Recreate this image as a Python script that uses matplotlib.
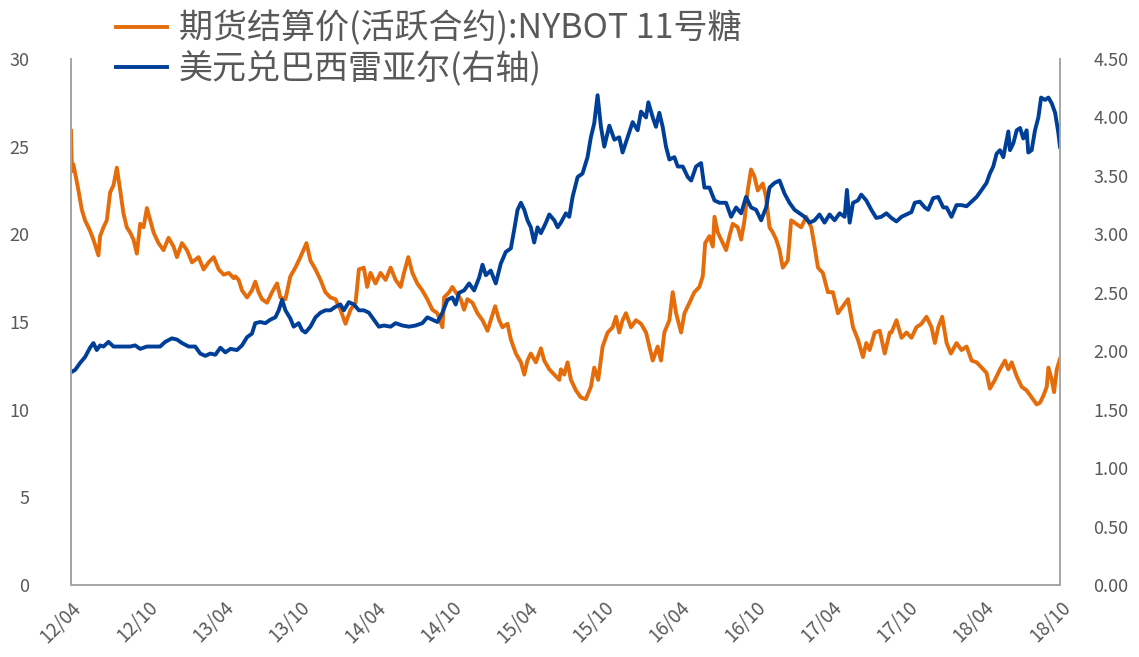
import matplotlib
matplotlib.use("Agg")
import matplotlib.pyplot as plt
import numpy as np
import pandas as pd

# ---- data (decimal-year, value) ----
sugar_t = [2012.270, 2012.276, 2012.285, 2012.297, 2012.319, 2012.341, 2012.362, 2012.395, 2012.417, 2012.439,
           2012.450, 2012.461, 2012.483, 2012.505, 2012.527, 2012.549, 2012.571, 2012.593, 2012.614, 2012.636,
           2012.658, 2012.680, 2012.702, 2012.724, 2012.746, 2012.768, 2012.790, 2012.812, 2012.844, 2012.877,
           2012.910, 2012.943, 2012.965, 2012.998, 2013.031, 2013.064, 2013.107, 2013.140, 2013.173, 2013.206,
           2013.239, 2013.272, 2013.305, 2013.338, 2013.348, 2013.370, 2013.392, 2013.425, 2013.457, 2013.479,
           2013.501, 2013.523, 2013.556, 2013.589, 2013.622, 2013.644, 2013.677, 2013.709, 2013.742, 2013.775,
           2013.815, 2013.841, 2013.874, 2013.907, 2013.939, 2013.972, 2014.005, 2014.038, 2014.071, 2014.104,
           2014.137, 2014.159, 2014.191, 2014.213, 2014.235, 2014.268, 2014.301, 2014.334, 2014.367, 2014.400,
           2014.433, 2014.455, 2014.483, 2014.510, 2014.542, 2014.575, 2014.608, 2014.641, 2014.674, 2014.707,
           2014.718, 2014.751, 2014.772, 2014.794, 2014.827, 2014.849, 2014.871, 2014.904, 2014.937, 2014.970,
           2015.003, 2015.024, 2015.053, 2015.079, 2015.101, 2015.134, 2015.156, 2015.189, 2015.222, 2015.244,
           2015.265, 2015.287, 2015.320, 2015.353, 2015.375, 2015.408, 2015.441, 2015.474, 2015.484, 2015.506,
           2015.528, 2015.550, 2015.583, 2015.615, 2015.648, 2015.681, 2015.703, 2015.729, 2015.758, 2015.791,
           2015.824, 2015.846, 2015.867, 2015.889, 2015.911, 2015.944, 2015.977, 2016.010, 2016.043, 2016.065,
           2016.087, 2016.119, 2016.141, 2016.163, 2016.196, 2016.218, 2016.240, 2016.273, 2016.295, 2016.328,
           2016.360, 2016.393, 2016.415, 2016.431, 2016.459, 2016.481, 2016.492, 2016.514, 2016.536, 2016.568,
           2016.590, 2016.612, 2016.645, 2016.667, 2016.689, 2016.710, 2016.732, 2016.754, 2016.776, 2016.809,
           2016.831, 2016.853, 2016.875, 2016.897, 2016.919, 2016.940, 2016.973, 2016.995, 2017.028, 2017.061,
           2017.094, 2017.127, 2017.149, 2017.171, 2017.203, 2017.236, 2017.269, 2017.302, 2017.335, 2017.368,
           2017.401, 2017.433, 2017.466, 2017.488, 2017.510, 2017.543, 2017.576, 2017.609, 2017.642, 2017.653,
           2017.686, 2017.719, 2017.752, 2017.784, 2017.817, 2017.850, 2017.883, 2017.916, 2017.938, 2017.960,
           2017.986, 2018.015, 2018.043, 2018.080, 2018.113, 2018.146, 2018.179, 2018.212, 2018.245, 2018.277,
           2018.299, 2018.332, 2018.365, 2018.398, 2018.420, 2018.442, 2018.475, 2018.508, 2018.540, 2018.573,
           2018.606, 2018.628, 2018.650, 2018.672, 2018.683, 2018.705, 2018.720, 2018.738, 2018.759]
sugar_v = [25.9, 23.6, 24.0, 23.5, 22.5, 21.4, 20.8, 20.2, 19.7, 19.1,
           18.8, 19.9, 20.4, 20.8, 22.4, 22.8, 23.8, 22.5, 21.2, 20.4,
           20.1, 19.7, 18.9, 20.6, 20.4, 21.5, 20.8, 20.1, 19.5, 19.1,
           19.8, 19.3, 18.7, 19.5, 19.1, 18.4, 18.7, 18.0, 18.4, 18.7,
           18.0, 17.7, 17.8, 17.5, 17.6, 17.4, 16.8, 16.4, 16.8, 17.3,
           16.7, 16.3, 16.1, 16.7, 17.2, 16.4, 16.3, 17.6, 18.1, 18.7,
           19.5, 18.5, 18.0, 17.4, 16.7, 16.4, 16.3, 15.7, 14.9, 15.7,
           16.1, 18.0, 18.1, 17.0, 17.8, 17.2, 17.8, 17.4, 18.1, 17.4,
           17.0, 17.8, 18.7, 17.8, 17.2, 16.8, 16.3, 15.7, 15.5, 14.7,
           16.4, 16.7, 17.0, 16.7, 16.3, 15.7, 16.3, 16.1, 15.5, 15.1,
           14.5, 15.1, 15.9, 15.1, 14.7, 14.9, 14.0, 13.2, 12.7, 12.0,
           12.8, 13.2, 12.7, 13.5, 12.8, 12.3, 12.0, 11.7, 12.3, 12.0,
           12.7, 11.7, 11.1, 10.7, 10.6, 11.3, 12.4, 11.7, 13.6, 14.4,
           14.7, 15.3, 14.4, 15.1, 15.5, 14.7, 15.1, 14.9, 14.4, 13.6,
           12.8, 13.6, 12.8, 14.4, 15.1, 16.7, 15.5, 14.4, 15.5, 16.1,
           16.7, 17.0, 17.6, 19.5, 19.9, 19.3, 21.0, 20.1, 19.7, 19.1,
           19.9, 20.6, 20.4, 19.7, 20.8, 22.5, 23.7, 23.3, 22.5, 22.9,
           22.1, 20.4, 20.1, 19.7, 19.1, 18.1, 18.5, 20.8, 20.6, 20.4,
           21.0, 20.4, 19.3, 18.1, 17.8, 16.7, 16.7, 15.5, 15.9, 16.3,
           14.7, 14.0, 13.0, 13.8, 13.4, 14.4, 14.5, 13.2, 14.4, 14.4,
           15.1, 14.1, 14.4, 14.1, 14.7, 14.9, 15.3, 14.7, 13.8, 14.7,
           15.3, 13.8, 13.2, 13.8, 13.4, 13.6, 12.8, 12.7, 12.4, 12.1,
           11.2, 11.7, 12.3, 12.8, 12.3, 12.7, 11.9, 11.3, 11.1, 10.7,
           10.3, 10.4, 10.8, 11.3, 12.4, 11.7, 11.0, 12.3, 12.9]

brl_t = [2012.270, 2012.297, 2012.330, 2012.362, 2012.395, 2012.417, 2012.439, 2012.461, 2012.483, 2012.516,
         2012.549, 2012.603, 2012.658, 2012.691, 2012.724, 2012.768, 2012.812, 2012.855, 2012.888, 2012.932,
         2012.965, 2012.998, 2013.042, 2013.085, 2013.118, 2013.151, 2013.184, 2013.217, 2013.250, 2013.283,
         2013.316, 2013.359, 2013.392, 2013.425, 2013.457, 2013.479, 2013.512, 2013.545, 2013.578, 2013.611,
         2013.633, 2013.655, 2013.677, 2013.709, 2013.731, 2013.764, 2013.786, 2013.808, 2013.841, 2013.874,
         2013.907, 2013.939, 2013.972, 2014.005, 2014.038, 2014.060, 2014.093, 2014.126, 2014.159, 2014.191,
         2014.224, 2014.257, 2014.290, 2014.323, 2014.367, 2014.400, 2014.444, 2014.488, 2014.531, 2014.575,
         2014.608, 2014.641, 2014.674, 2014.707, 2014.740, 2014.772, 2014.794, 2014.816, 2014.849, 2014.882,
         2014.915, 2014.948, 2014.970, 2014.992, 2015.024, 2015.057, 2015.090, 2015.123, 2015.156, 2015.178,
         2015.200, 2015.222, 2015.244, 2015.265, 2015.287, 2015.309, 2015.331, 2015.353, 2015.386, 2015.408,
         2015.441, 2015.463, 2015.484, 2015.517, 2015.539, 2015.561, 2015.594, 2015.626, 2015.659, 2015.681,
         2015.703, 2015.725, 2015.747, 2015.769, 2015.802, 2015.835, 2015.867, 2015.889, 2015.922, 2015.955,
         2015.988, 2016.010, 2016.043, 2016.058, 2016.087, 2016.108, 2016.130, 2016.152, 2016.174, 2016.196,
         2016.229, 2016.251, 2016.284, 2016.317, 2016.339, 2016.371, 2016.404, 2016.426, 2016.459, 2016.492,
         2016.525, 2016.558, 2016.568, 2016.601, 2016.634, 2016.667, 2016.699, 2016.732, 2016.765, 2016.798,
         2016.831, 2016.853, 2016.886, 2016.919, 2016.951, 2016.984, 2017.017, 2017.050, 2017.083, 2017.116,
         2017.149, 2017.181, 2017.214, 2017.247, 2017.280, 2017.313, 2017.346, 2017.361, 2017.379, 2017.401,
         2017.433, 2017.455, 2017.488, 2017.521, 2017.554, 2017.587, 2017.620, 2017.653, 2017.686, 2017.719,
         2017.752, 2017.784, 2017.806, 2017.839, 2017.872, 2017.894, 2017.927, 2017.960, 2017.993, 2018.015,
         2018.047, 2018.080, 2018.113, 2018.146, 2018.179, 2018.212, 2018.245, 2018.277, 2018.299, 2018.321,
         2018.343, 2018.365, 2018.387, 2018.409, 2018.420, 2018.431, 2018.453, 2018.475, 2018.497, 2018.518,
         2018.540, 2018.551, 2018.573, 2018.595, 2018.617, 2018.635, 2018.661, 2018.683, 2018.705, 2018.727,
         2018.748, 2018.759]
brl_v = [1.82, 1.84, 1.90, 1.95, 2.03, 2.07, 2.01, 2.05, 2.04, 2.08,
         2.04, 2.04, 2.04, 2.05, 2.02, 2.04, 2.04, 2.04, 2.08, 2.11,
         2.10, 2.07, 2.04, 2.04, 1.98, 1.96, 1.98, 1.97, 2.03, 1.99,
         2.02, 2.01, 2.05, 2.12, 2.15, 2.24, 2.25, 2.24, 2.27, 2.29,
         2.35, 2.44, 2.35, 2.28, 2.21, 2.24, 2.18, 2.16, 2.21, 2.29,
         2.33, 2.35, 2.35, 2.38, 2.40, 2.35, 2.42, 2.40, 2.35, 2.35,
         2.33, 2.27, 2.21, 2.22, 2.21, 2.24, 2.22, 2.21, 2.22, 2.24,
         2.29, 2.27, 2.25, 2.33, 2.44, 2.46, 2.40, 2.50, 2.52, 2.58,
         2.52, 2.63, 2.74, 2.65, 2.69, 2.58, 2.75, 2.85, 2.88, 3.04,
         3.21, 3.27, 3.21, 3.12, 3.06, 2.93, 3.06, 3.01, 3.10, 3.17,
         3.12, 3.06, 3.10, 3.18, 3.15, 3.32, 3.49, 3.52, 3.66, 3.83,
         3.95, 4.19, 3.92, 3.75, 3.93, 3.81, 3.83, 3.70, 3.83, 3.96,
         3.89, 4.05, 4.00, 4.13, 4.00, 3.92, 4.04, 3.92, 3.75, 3.64,
         3.66, 3.58, 3.58, 3.49, 3.46, 3.58, 3.61, 3.40, 3.40, 3.29,
         3.27, 3.27, 3.27, 3.15, 3.23, 3.18, 3.32, 3.23, 3.21, 3.12,
         3.23, 3.40, 3.44, 3.46, 3.35, 3.27, 3.21, 3.18, 3.15, 3.10,
         3.12, 3.17, 3.10, 3.17, 3.12, 3.18, 3.15, 3.38, 3.10, 3.27,
         3.29, 3.34, 3.29, 3.21, 3.14, 3.15, 3.18, 3.14, 3.11, 3.15,
         3.17, 3.19, 3.27, 3.28, 3.23, 3.21, 3.31, 3.32, 3.23, 3.23,
         3.15, 3.25, 3.25, 3.24, 3.28, 3.32, 3.38, 3.44, 3.52, 3.58,
         3.69, 3.72, 3.66, 3.81, 3.88, 3.72, 3.78, 3.89, 3.91, 3.82,
         3.89, 3.70, 3.72, 3.89, 4.00, 4.17, 4.15, 4.17, 4.12, 4.04,
         3.87, 3.75]

tick_labels = ["12/04", "12/10", "13/04", "13/10", "14/04", "14/10", "15/04",
               "15/10", "16/04", "16/10", "17/04", "17/10", "18/04", "18/10"]
label_sugar = "期货结算价(活跃合约):NYBOT 11号糖"
label_brl = "美元兑巴西雷亚尔(右轴)"

ORANGE = "#E46C0A"
BLUE = "#003F97"
GREY = "#595959"

plt.rcParams['font.family'] = ['Noto Sans CJK SC', 'DejaVu Sans']

fig = plt.figure(figsize=(11.39, 6.57), dpi=100)
ax = fig.add_axes([71/1139, 1-585/657, (1060-71)/1139, (585-59)/657])
ax2 = ax.twinx()

l1, = ax.plot(sugar_t, sugar_v, color=ORANGE, lw=2.8, solid_joinstyle='round')
l2, = ax2.plot(brl_t, brl_v, color=BLUE, lw=2.8, solid_joinstyle='round')

t0, t1 = sugar_t[0], sugar_t[-1]
ax.set_xlim(t0, t1)
ax.set_ylim(0, 30)
ax2.set_ylim(0, 4.5)
ax.set_yticks(np.arange(0, 31, 5))
ax2.set_yticks(np.arange(0, 4.51, 0.5))
ax2.set_yticklabels([f"{v:.2f}" for v in np.arange(0, 4.51, 0.5)])
ax.set_xticks(np.linspace(t0, t1, len(tick_labels)))
ax.set_xticklabels(tick_labels, rotation=45, ha='right', rotation_mode='anchor')

for a in (ax, ax2):
    a.tick_params(length=0, colors=GREY, labelsize=13)
    for s in a.spines.values():
        s.set_color("#A6A6A6")
        s.set_linewidth(1.3)
    a.spines['top'].set_visible(False)
ax.tick_params(axis='y', pad=30)
ax2.tick_params(axis='y', pad=24)
ax.tick_params(axis='x', pad=9, labelsize=13.5)

fig.legend([l1, l2], [label_sugar, label_brl], loc='upper left',
           bbox_to_anchor=(116/1139, 1.0 - 11/657), frameon=False, fontsize=24.5,
           handlelength=1.5, handletextpad=0.35, labelspacing=0.15,
           labelcolor=GREY, borderaxespad=0.0, borderpad=0.0)

fig.savefig("out.png", dpi=100)
